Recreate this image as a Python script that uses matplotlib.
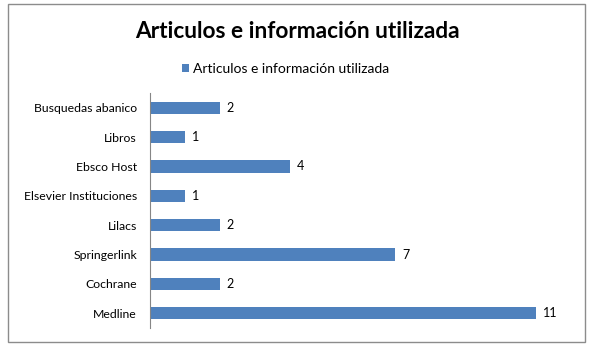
import matplotlib
matplotlib.use("Agg")
import matplotlib.pyplot as plt
from matplotlib.patches import Rectangle

categories = ["Busquedas abanico", "Libros", "Ebsco Host", "Elsevier Instituciones",
              "Lilacs", "Springerlink", "Cochrane", "Medline"]
values = [2, 1, 4, 1, 2, 7, 2, 11]
series_name = "Articulos e información utilizada"
title = "Articulos e información utilizada"

plt.rcParams['font.family'] = ['Lato', 'DejaVu Sans']

W, H = 594, 352
fig = plt.figure(figsize=(W / 100, H / 100), dpi=100)
fig.patch.set_facecolor("white")

# chart border
fig.patches.append(Rectangle((8 / W, 1 - 342 / H), 577 / W, 338 / H, transform=fig.transFigure,
                             fill=False, edgecolor="#8c8c8c", linewidth=1.0))

ax = fig.add_axes([149.5 / W, 1 - 328 / H, (571 - 149.5) / W, 235 / H])
ypos = list(range(len(categories)))
bars = ax.barh(ypos, values, height=0.42, color="#4F81BD", label=series_name)
ax.set_ylim(len(categories) - 0.5, -0.5)
ax.set_xlim(0, 12)
ax.set_yticks(ypos)
ax.set_yticklabels(categories, fontsize=8.8)
ax.tick_params(axis="y", length=0, pad=9)
ax.set_xticks([])
for s in ["top", "right", "bottom"]:
    ax.spines[s].set_visible(False)
ax.spines["left"].set_color("#868686")
ax.spines["left"].set_linewidth(0.8)

for y, v in zip(ypos, values):
    ax.annotate(str(v), (v, y), xytext=(5, 0), textcoords="offset points",
                va="center", ha="left", fontsize=9)

fig.text(0.5, 1 - 32 / H, title, ha="center", va="center", fontsize=16.3, fontweight="bold")
fig.legend(handles=[bars], labels=[series_name], loc="center", bbox_to_anchor=(286 / W, 1 - 69 / H),
           frameon=False, fontsize=10, handlelength=0.5, handleheight=0.5, handletextpad=0.3)

fig.savefig("out.png", dpi=100, facecolor="white")
